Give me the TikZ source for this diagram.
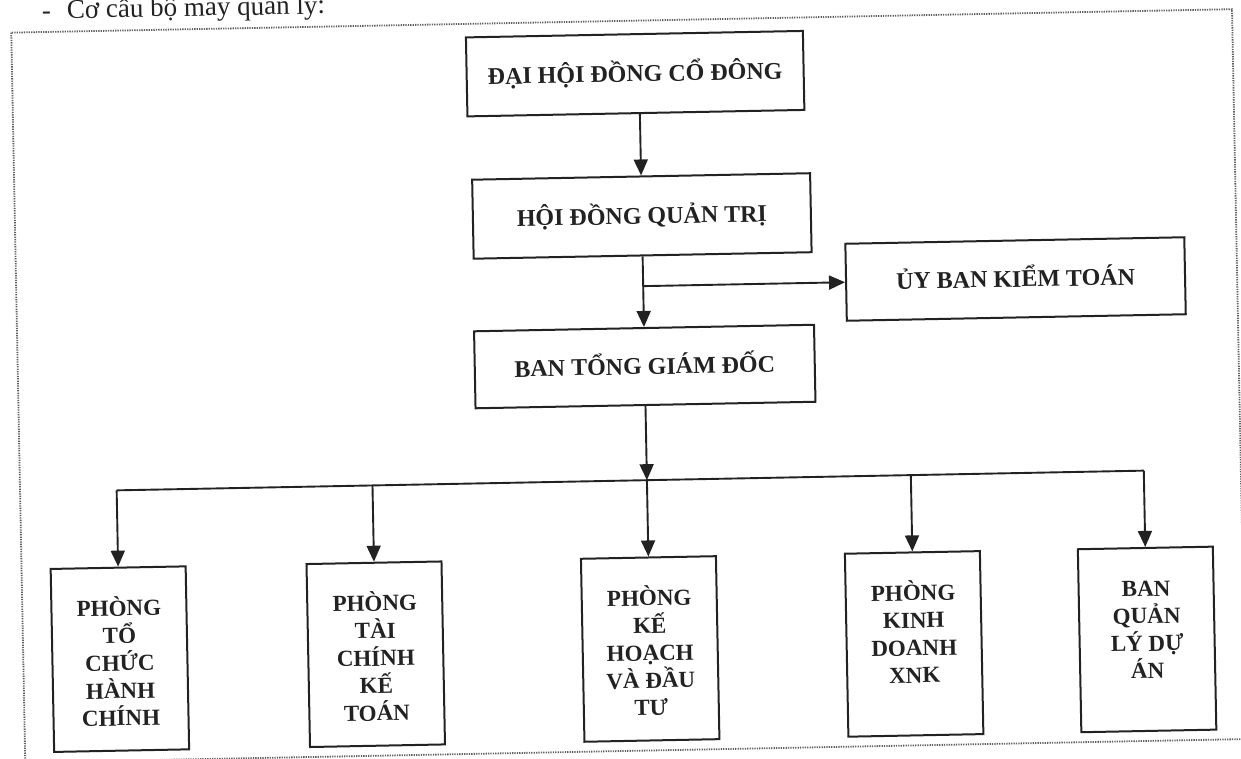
\documentclass[tikz,border=0pt]{standalone}
\usepackage{fontspec}
\setmainfont{Liberation Serif}
\usetikzlibrary{arrows.meta}
\definecolor{ink}{HTML}{222222}
\begin{document}
\begin{tikzpicture}[x=1pt,y=-1pt,
 box/.style={draw=ink, line width=2pt, inner sep=0pt, fill=white},
 ttxt/.style={font=\fontsize{24}{28}\selectfont\bfseries, text=ink, text height=16pt, text depth=0pt},
 btxt/.style={font=\fontsize{23}{27.5}\selectfont\bfseries, text=ink, align=center, inner sep=0pt, anchor=north},
 smallbox/.style={box, minimum width=135pt, minimum height=183pt},
 conn/.style={draw=ink, line width=1.9pt},
 arr/.style={conn, -{Triangle[length=16pt,width=14pt]}},
 framebox/.style={draw=black!62, line width=1.8pt, dash pattern=on 1.3pt off 1.1pt}]
\useasboundingbox (0,0) rectangle (1241,758);
\clip (0,0) rectangle (1241,758);
\fill[white] (0,0) rectangle (1241,758);
\begin{scope}[rotate around={1.1:(620,379)}, transform shape]
\draw[framebox] (18,21) rectangle (1239,751);
\node[font=\fontsize{27}{30}\selectfont, text=ink, anchor=base west, inner sep=0pt] (title) at (49,8) {-\hspace*{16pt}Cơ cấu bộ máy quản lý:};
% top boxes
\node[box, ttxt, minimum width=337pt, minimum height=79pt] (dh) at (641,74) {ĐẠI HỘI ĐỒNG CỔ ĐÔNG};
\node[box, ttxt, minimum width=338pt, minimum height=79pt] (hd) at (645,216.4) {HỘI ĐỒNG QUẢN TRỊ};
\node[box, ttxt, minimum width=340pt, minimum height=77pt] (bt) at (645,367) {BAN TỔNG GIÁM ĐỐC};
\node[box, ttxt, minimum width=339pt, minimum height=77pt] (ub) at (1017.4,286.6) {ỦY BAN KIỂM TOÁN};
% bottom boxes
\node[smallbox] (A) at (114.6,649.5) {};
\node[smallbox] (B) at (370.5,649.5) {};
\node[smallbox] (C) at (645,649.5) {};
\node[smallbox] (D) at (909,649.5) {};
\node[smallbox] (E) at (1142,649.5) {};
\node[btxt] (At) at (114.6,582) {\rule{0pt}{24pt}PHÒNG\\TỔ\\CHỨC\\HÀNH\\CHÍNH};
\node[btxt] (Bt) at (370.5,582) {\rule{0pt}{24pt}PHÒNG\\TÀI\\CHÍNH\\KẾ\\TOÁN};
\node[btxt] (Ct) at (645,582) {\rule{0pt}{24pt}PHÒNG\\KẾ\\HOẠCH\\VÀ ĐẦU\\TƯ};
\node[btxt] (Dt) at (909,582) {\rule{0pt}{24pt}PHÒNG\\KINH\\DOANH\\XNK};
\node[btxt] (Et) at (1142,582) {\rule{0pt}{24pt}BAN\\QUẢN\\LÝ DỰ\\ÁN};
% coordinates
\coordinate (d1) at (645,113.5);
\coordinate (br) at (645,286.6);
\coordinate (bc) at (645,480.7);
\coordinate (ba) at (114.6,480.7);
\coordinate (bb) at (370.5,480.7);
\coordinate (bd) at (909,480.7);
\coordinate (be) at (1142,480.7);
% connectors
\draw[arr] (d1) -- (hd.north);
\draw[arr] (hd.south) -- (bt.north);
\draw[arr] (br) -- (ub.west);
\draw[arr] (bt.south) -- (bc);
\draw[conn] (ba) -- (be);
\draw[arr] (ba) -- (A.north);
\draw[arr] (bb) -- (B.north);
\draw[arr] (bc) -- (C.north);
\draw[arr] (bd) -- (D.north);
\draw[arr] (be) -- (E.north);
\end{scope}
\end{tikzpicture}
\end{document}
